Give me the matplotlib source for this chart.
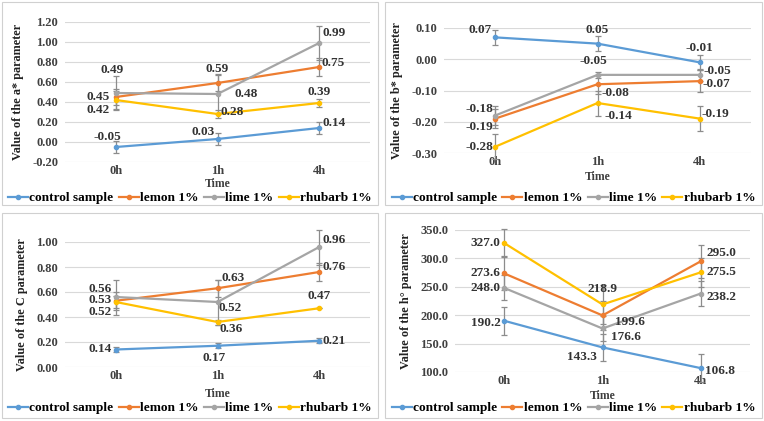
import matplotlib
matplotlib.use("Agg")
import matplotlib.pyplot as plt
from matplotlib.patches import Rectangle
from matplotlib.lines import Line2D

# === DATA ===
times = ["0h", "1h", "4h"]
series = ["control sample", "lemon 1%", "lime 1%", "rhubarb 1%"]

# rows follow the order of series
a_vals = [[-0.05, 0.03, 0.14], [0.45, 0.59, 0.75], [0.49, 0.48, 0.99], [0.42, 0.28, 0.39]]
a_errs = [[0.06, 0.06, 0.06], [0.08, 0.08, 0.09], [0.17, 0.20, 0.17], [0.09, 0.04, 0.04]]

b_vals = [[0.07, 0.05, -0.01], [-0.19, -0.08, -0.07], [-0.18, -0.05, -0.05], [-0.28, -0.14, -0.19]]
b_errs = [[0.025, 0.025, 0.025], [0.03, 0.03, 0.035], [0.03, 0.01, 0.02], [0.04, 0.04, 0.04]]

c_vals = [[0.14, 0.17, 0.21], [0.53, 0.63, 0.76], [0.56, 0.52, 0.96], [0.52, 0.36, 0.47]]
c_errs = [[0.02, 0.02, 0.02], [0.07, 0.07, 0.07], [0.14, 0.18, 0.14], [0.05, 0.02, 0.0]]

h_vals = [[190.2, 143.3, 106.8], [273.6, 199.6, 295.0], [248.0, 176.6, 238.2], [327.0, 218.9, 275.5]]
h_errs = [[25, 24, 25], [30, 25, 29], [22, 22, 22], [25, 35, 25]]

colors = ["#5B9BD5", "#ED7D31", "#A5A5A5", "#FFC000"]
FONT = "Liberation Serif"

# label placement: (dx px, dy px, ha) per series per point
a_pos = [[(-8, 10, "center"), (-3, 7, "right"), (3, 5, "left")],
         [(-6, 0, "right"), (0, 14, "center"), (2, 4, "left")],
         [(-4, 23, "center"), (17, 0, "left"), (3, 10, "left")],
         [(-6, -10, "right"), (3, 2, "left"), (0, 11, "center")]]
b_pos = [[(-3, 7, "right"), (0, 14, "center"), (0, 14, "center")],
         [(-2, -8, "right"), (4, -9, "left"), (3, -3, "left")],
         [(-2, 7, "right"), (-4, 14, "center"), (4, 4, "left")],
         [(-2, 0, "right"), (7, -13, "left"), (2, 5, "left")]]
c_pos = [[(-4, 0, "right"), (-3, -12, "center"), (3, 0, "left")],
         [(-4, 1, "right"), (4, 10, "left"), (3, 5, "left")],
         [(-4, 8, "right"), (1, -6, "left"), (3, 7, "left")],
         [(-4, -10, "right"), (2, -7, "left"), (0, 12, "center")]]
h_pos = [[(-3, -2, "right"), (-6, -10, "right"), (4, -3, "left")],
         [(-4, 0, "right"), (12, -7, "left"), (6, 8, "left")],
         [(-4, 0, "right"), (9, -9, "left"), (6, -3, "left")],
         [(-4, 0, "right"), (0, 15, "center"), (6, 0, "left")]]

W, H = 764, 421
fig = plt.figure(figsize=(W / 100, H / 100), dpi=100)


def px_rect(x0, y0, x1, y1):
    # pixel box (top-left origin) -> figure fraction
    return [x0 / W, 1 - y1 / H, (x1 - x0) / W, (y1 - y0) / H]


panels = [
    # vals, errs, pos, ylabel, ylim, ticks, fmt, axes box, panel box, y of time/legend
    (a_vals, a_errs, a_pos, "Value of the a* parameter", (-0.2, 1.2),
     [-0.2, 0.0, 0.2, 0.4, 0.6, 0.8, 1.0, 1.2], "{:.2f}", (65, 22, 370, 162), (2, 2, 378, 205), (184, 198)),
    (b_vals, b_errs, b_pos, "Value of the b* parameter", (-0.3, 0.1),
     [-0.3, -0.2, -0.1, 0.0, 0.1], "{:.2f}", (444, 28, 751, 153), (385, 2, 762, 205), (177, 198)),
    (c_vals, c_errs, c_pos, "Value of the C parameter", (0.0, 1.0),
     [0.0, 0.2, 0.4, 0.6, 0.8, 1.0], "{:.2f}", (65, 242, 370, 367), (2, 213, 378, 418), (394, 408)),
    (h_vals, h_errs, h_pos, "Value of the h° parameter", (100, 350),
     [100, 150, 200, 250, 300, 350], "{:.1f}", (455, 230, 750, 372), (385, 213, 762, 418), (396, 408)),
]

for vals, errs, pos, ylabel, ylim, ticks, fmt, abox, pbox, (ty, ly) in panels:
    # panel frame
    fig.patches.append(Rectangle((pbox[0] / W, 1 - pbox[3] / H), (pbox[2] - pbox[0]) / W,
                                 (pbox[3] - pbox[1]) / H, transform=fig.transFigure,
                                 fill=False, edgecolor="#D0D0D0", linewidth=0.8))
    ax = fig.add_axes(px_rect(*abox))
    x = list(range(len(times)))
    for i, name in enumerate(series):
        ax.errorbar(x, vals[i], yerr=errs[i], color=colors[i], linewidth=1.6,
                    marker="o", markersize=3, ecolor="#8C8C8C", elinewidth=0.9,
                    capsize=2, capthick=0.9, clip_on=False, zorder=3)
        for j in x:
            dx, dy, ha = pos[i][j]
            ax.annotate(fmt.format(vals[i][j]), (j, vals[i][j]), xytext=(dx, dy),
                        textcoords="offset pixels", ha=ha, va="center",
                        fontsize=9.5, fontweight="bold", family=FONT, color="#333333",
                        zorder=4)
    ax.set_xlim(-0.5, 2.5)
    ax.set_ylim(*ylim)
    ax.set_yticks(ticks)
    ax.set_yticklabels([fmt.format(t) for t in ticks], fontsize=9, fontweight="bold",
                       family=FONT, color="#404040")
    ax.set_xticks(x)
    ax.set_xticklabels(times, fontsize=9, fontweight="bold", family=FONT, color="#404040")
    ax.tick_params(axis="y", length=0, pad=5)
    ax.tick_params(axis="x", length=0, pad=2)
    ax.grid(axis="y", color="#D9D9D9", linewidth=0.8)
    ax.set_axisbelow(True)
    for s in ax.spines.values():
        s.set_visible(False)
    ax.set_ylabel(ylabel, fontsize=8.8, fontweight="bold", family=FONT, color="#222222", labelpad=6)
    cx = (abox[0] + abox[2]) / 2
    fig.text(cx / W, 1 - ty / H, "Time", ha="center", va="center", fontsize=8.5,
             fontweight="bold", family=FONT, color="#404040")
    handles = [Line2D([0], [0], color=c, linewidth=1.6, marker="o", markersize=3) for c in colors]
    fig.legend(handles, series, loc="center", bbox_to_anchor=((pbox[0] + pbox[2]) / 2 / W, 1 - ly / H),
               ncol=4, frameon=False, handlelength=1.5, handletextpad=0.1, columnspacing=0.4,
               borderpad=0, borderaxespad=0,
               prop={"family": FONT, "weight": "bold", "size": 9.6})

plt.savefig("out.png", dpi=100)
